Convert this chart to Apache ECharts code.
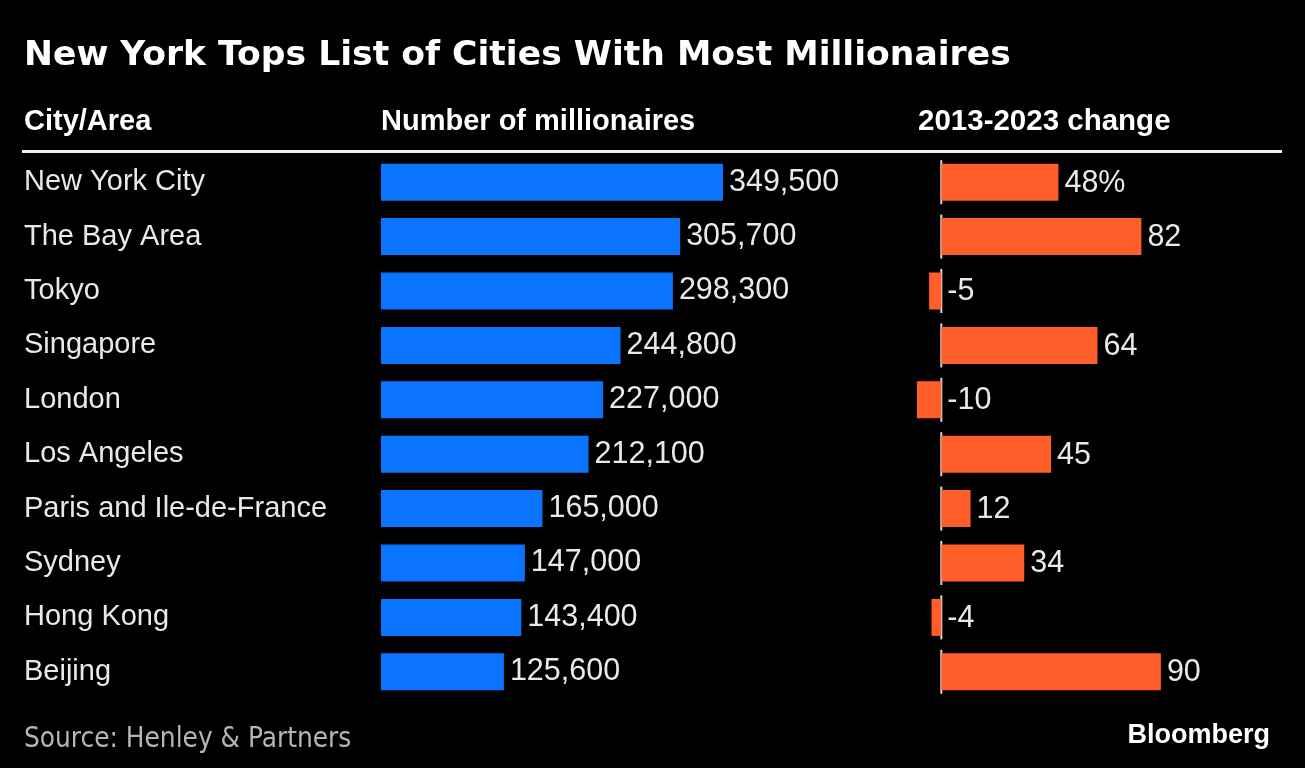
<!DOCTYPE html>
<html>
<head>
<meta charset="utf-8">
<script src="https://cdn.jsdelivr.net/npm/echarts@6/dist/echarts.min.js"></script>
<style>
html,body{margin:0;padding:0;background:#000;}
#chart{width:1305px;height:768px;}
</style>
</head>
<body>
<div id="chart"></div>
<script>
var cities = ["New York City","The Bay Area","Tokyo","Singapore","London","Los Angeles","Paris and Ile-de-France","Sydney","Hong Kong","Beijing"];
var millionaires = [349500,305700,298300,244800,227000,212100,165000,147000,143400,125600];
var change = [48,82,-5,64,-10,45,12,34,-4,90];

var chart = echarts.init(document.getElementById('chart'));
var txt = '#e9e9e9';
var dataFont = 'Liberation Sans';

var option = {
  backgroundColor: '#000',
  animation: false,
  grid: [
    {left: 381, width: 391.4, top: 155, height: 544},
    {left: 892.5, width: 292.8, top: 155, height: 544}
  ],
  xAxis: [
    {gridIndex: 0, type: 'value', min: 0, max: 400000, show: false},
    {gridIndex: 1, type: 'value', min: -20, max: 100, show: false}
  ],
  yAxis: [
    {gridIndex: 0, type: 'category', data: cities, inverse: true,
     axisLine: {show: false}, axisTick: {show: false}, splitLine: {show: false},
     axisLabel: {align: 'left', margin: 357, color: txt, fontFamily: dataFont, fontSize: 29, verticalAlign: 'middle', padding: [0,0,6,0]}},
    {gridIndex: 1, type: 'category', data: cities, inverse: true, show: false}
  ],
  series: [
    {type: 'bar', xAxisIndex: 0, yAxisIndex: 0, data: millionaires, barWidth: 37,
     itemStyle: {color: '#0b74ff'},
     label: {show: true, position: 'right', distance: 6, color: txt, fontFamily: dataFont, fontSize: 30.5,
       formatter: function(p){ return p.value.toLocaleString('en-US'); }}},
    {type: 'bar', xAxisIndex: 1, yAxisIndex: 1, data: change, barWidth: 37,
     itemStyle: {color: '#ff5e2b'}},
    {type: 'custom', xAxisIndex: 1, yAxisIndex: 1, data: change.map(function(v,i){return [v,i];}),
     encode: {x: 0, y: 1},
     renderItem: function(params, api){
       var v = api.value(0), i = api.value(1);
       var z = api.coord([0, i]);
       var e = api.coord([Math.max(v,0), i]);
       var s = i === 0 ? v + '%' : String(v);
       return {type: 'group', children: [
         {type: 'line', shape: {x1: z[0], y1: z[1]-22, x2: z[0], y2: z[1]+22}, style: {stroke: '#d8d8d8', lineWidth: 2}},
         {type: 'text', x: e[0] + 6, y: z[1] + 1, style: {text: s, fill: txt, font: '30.5px "' + dataFont + '"', verticalAlign: 'middle'}}
       ]};
     }}
  ],
  graphic: [
    {type: 'text', left: 24, top: 39, style: {text: 'New York Tops List of Cities With Most Millionaires', fill: '#fff', font: 'bold 34.6px "DejaVu Sans"'}},
    {type: 'text', left: 24, top: 107, style: {text: 'City/Area', fill: '#fff', font: 'bold 29px "Liberation Sans"'}},
    {type: 'text', left: 381, top: 107, style: {text: 'Number of millionaires', fill: '#fff', font: 'bold 29px "Liberation Sans"'}},
    {type: 'text', left: 918, top: 107, style: {text: '2013-2023 change', fill: '#fff', font: 'bold 29.5px "Liberation Sans"'}},
    {type: 'rect', shape: {x: 22, y: 150, width: 1260, height: 3}, style: {fill: '#f0f0f0'}},
    {type: 'text', left: 24, top: 726, style: {text: 'Source: Henley & Partners', fill: '#b5b5b5', font: '27.7px "DejaVu Sans Condensed"'}},
    {type: 'text', right: 35, top: 722, style: {text: 'Bloomberg', fill: '#fff', font: 'bold 27px "Liberation Sans"'}}
  ]
};
chart.setOption(option);
</script>
</body>
</html>
